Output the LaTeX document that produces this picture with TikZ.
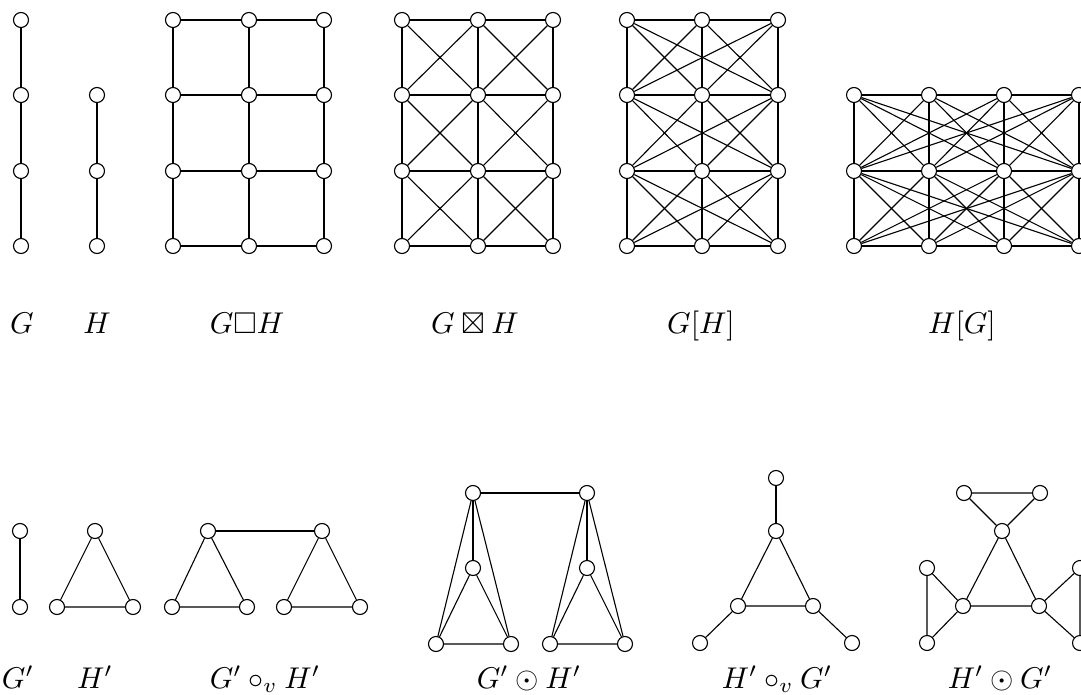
\documentclass[tikz,border=0pt]{standalone}
\usepackage{amsmath,amssymb}
\usetikzlibrary{positioning}
\tikzset{vtx/.style={draw,circle,fill=white,inner sep=0pt,minimum size=15pt,line width=1.1pt},
 edg/.style={line width=1.1pt},
 lbl/.style={anchor=base,inner sep=0pt,scale=3}}
\begin{document}
\begin{tikzpicture}[x=1pt,y=-1pt]
\useasboundingbox (0,0) rectangle (1081,695);
\clip (0,0) rectangle (1081,695);
\foreach \r/\y in {1/20,2/95,3/171,4/246} \node[vtx] (g\r) at (21,\y) {};
\foreach \r/\y in {1/95,2/171,3/246} \node[vtx] (h\r) at (97,\y) {};
\foreach \c/\x in {1/173,2/249,3/324} \foreach \r/\y in {1/20,2/95,3/171,4/246} \node[vtx] (cp\c\r) at (\x,\y) {};
\foreach \c/\x in {1/402,2/478,3/553} \foreach \r/\y in {1/20,2/95,3/171,4/246} \node[vtx] (sp\c\r) at (\x,\y) {};
\foreach \c/\x in {1/627,2/702,3/778} \foreach \r/\y in {1/20,2/95,3/171,4/246} \node[vtx] (gh\c\r) at (\x,\y) {};
\foreach \c/\x in {1/854,2/929,3/1004,4/1079} \foreach \r/\y in {1/95,2/171,3/246} \node[vtx] (hg\c\r) at (\x,\y) {};
\draw[edg] (g1)--(g2)--(g3)--(g4);
\draw[edg] (h1)--(h2)--(h3);
\foreach \c in {1,2,3} \foreach \r [count=\s from 2] in {1,2,3} {
 \draw[edg] (cp\c\r)--(cp\c\s);
 \draw[edg] (sp\c\r)--(sp\c\s);}
\foreach \c [count=\d from 2] in {1,2} \foreach \r in {1,2,3,4} {
 \draw[edg] (cp\c\r)--(cp\d\r);
 \draw[edg] (sp\c\r)--(sp\d\r);}
\foreach \c [count=\d from 2] in {1,2} \foreach \r [count=\s from 2] in {1,2,3} {
 \draw[edg] (sp\c\r)--(sp\d\s);
 \draw[edg] (sp\d\r)--(sp\c\s);}
\foreach \r in {1,2,3,4} \draw[edg] (gh1\r)--(gh2\r)--(gh3\r);
\foreach \r [count=\s from 2] in {1,2,3} \foreach \c in {1,2,3} \foreach \e in {1,2,3}
 \draw[edg] (gh\c\r)--(gh\e\s);
\foreach \r in {1,2,3} \draw[edg] (hg1\r)--(hg2\r)--(hg3\r)--(hg4\r);
\foreach \r [count=\s from 2] in {1,2} \foreach \c in {1,2,3,4} \foreach \e in {1,2,3,4}
 \draw[edg] (hg\c\r)--(hg\e\s);
\node[lbl] (lG) at (22,333) {$G$};
\node[lbl] (lH) at (97,333) {$H$};
\node[lbl] (lcp) at (247,333) {$G\Box H$};
\node[lbl] (lsp) at (475,333) {$G\boxtimes H$};
\node[lbl] (lgh) at (701,333) {$G[H]$};
\node[lbl] (lhg) at (962,333) {$H[G]$};
\node[vtx] (ga) at (20,531) {};
\node[vtx] (gb) at (20,607) {};
\draw[edg] (ga)--(gb);
\node[vtx] (ha) at (95,531) {};
\node[vtx] (hb) at (57,607) {};
\node[vtx] (hc) at (133,607) {};
\draw[edg] (ha)--(hb)--(hc)--(ha);
\node[vtx] (va1) at (208,531) {};
\node[vtx] (vb1) at (172,607) {};
\node[vtx] (vc1) at (247,607) {};
\node[vtx] (va2) at (322,531) {};
\node[vtx] (vb2) at (284,607) {};
\node[vtx] (vc2) at (360,607) {};
\draw[edg] (va1)--(vb1)--(vc1)--(va1);
\draw[edg] (va2)--(vb2)--(vc2)--(va2);
\draw[edg] (va1)--(va2);
\node[vtx] (ct1) at (473,493) {};
\node[vtx] (ct2) at (587,493) {};
\node[vtx] (cm1) at (473,568) {};
\node[vtx] (cm2) at (587,568) {};
\node[vtx] (cl1) at (436,644) {};
\node[vtx] (cr1) at (511,644) {};
\node[vtx] (cl2) at (550,644) {};
\node[vtx] (cr2) at (625,644) {};
\draw[edg] (ct1)--(ct2);
\foreach \i in {1,2} {
 \draw[edg] (cm\i)--(cl\i)--(cr\i)--(cm\i);
 \draw[edg] (ct\i)--(cm\i);
 \draw[edg] (ct\i)--(cl\i);
 \draw[edg] (ct\i)--(cr\i);}
\node[vtx] (wt) at (776,478) {};
\node[vtx] (wa) at (776,531) {};
\node[vtx] (wb) at (738,606) {};
\node[vtx] (wc) at (813,606) {};
\node[vtx] (wl) at (700,643) {};
\node[vtx] (wr) at (852,643) {};
\draw[edg] (wa)--(wb)--(wc)--(wa);
\draw[edg] (wt)--(wa);
\draw[edg] (wb)--(wl);
\draw[edg] (wc)--(wr);
\node[vtx] (oa) at (1002,531) {};
\node[vtx] (ob) at (963,606) {};
\node[vtx] (oc) at (1039,606) {};
\node[vtx] (oa1) at (964,493) {};
\node[vtx] (oa2) at (1040,493) {};
\node[vtx] (ob1) at (927,568) {};
\node[vtx] (ob2) at (927,643) {};
\node[vtx] (oc1) at (1080,568) {};
\node[vtx] (oc2) at (1080,643) {};
\draw[edg] (oa)--(ob)--(oc)--(oa);
\draw[edg] (oa1)--(oa2)--(oa)--(oa1);
\draw[edg] (ob1)--(ob2)--(ob)--(ob1);
\draw[edg] (oc1)--(oc2)--(oc)--(oc1);
\node[lbl] (lga) at (18,688) {$G'$};
\node[lbl] (lha) at (95,688) {$H'$};
\node[lbl] (lvp) at (265,688) {$G'\circ_v H'$};
\node[lbl] (lcr) at (529,688) {$G'\odot H'$};
\node[lbl] (lwp) at (777,688) {$H'\circ_v G'$};
\node[lbl] (lor) at (1000,688) {$H'\odot G'$};
\end{tikzpicture}
\end{document}
